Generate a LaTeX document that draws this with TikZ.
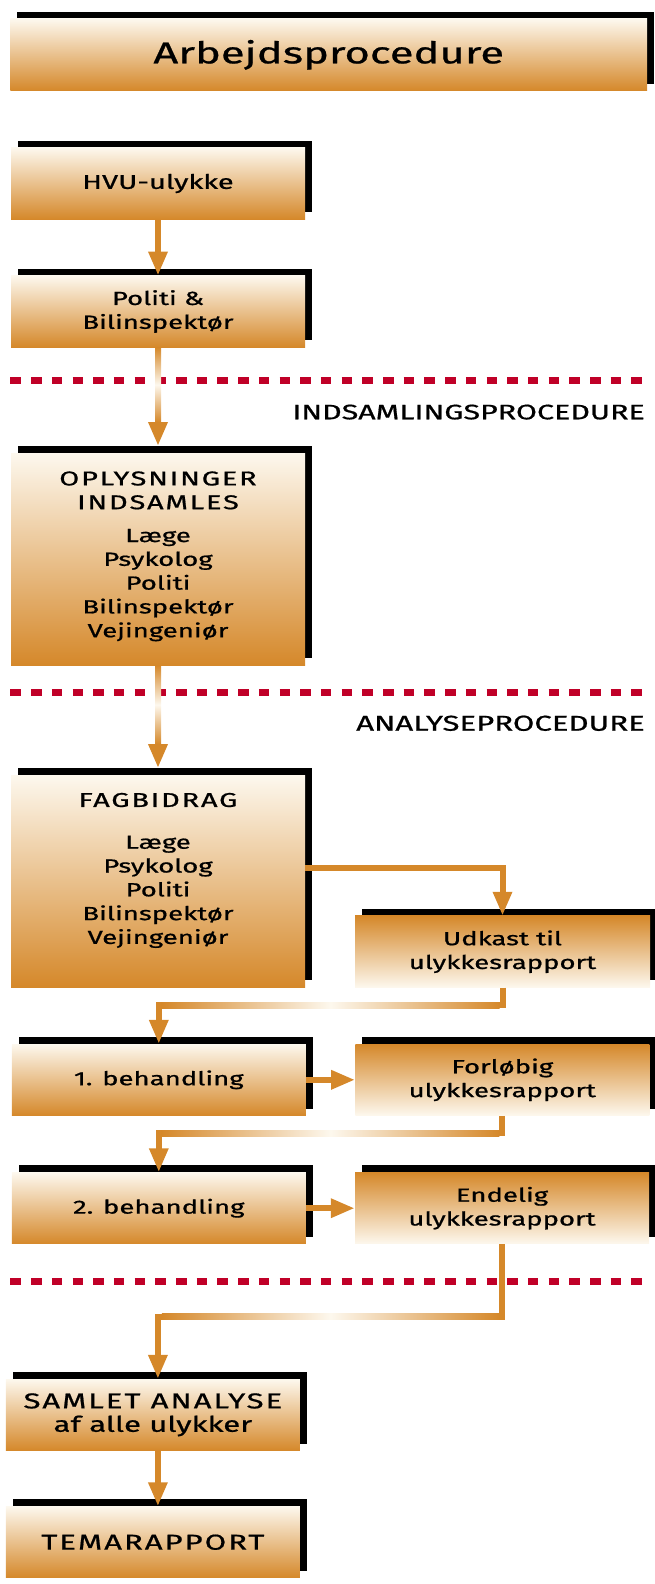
\documentclass[tikz,border=0pt]{standalone}
\usepackage{fontspec}
\setmainfont{Fira Sans}[FakeStretch=1.45,FakeBold=0.8]
\newfontfamily\widecaps{Fira Sans}[FakeStretch=1.45,FakeBold=0.8,LetterSpace=9]
\usetikzlibrary{arrows.meta,shadows,calc,positioning}
\definecolor{orng}{RGB}{213,136,42}
\definecolor{cream}{RGB}{253,248,238}
\definecolor{sepred}{RGB}{192,0,40}
\tikzset{
  box/.style     = { rectangle, inner sep=0pt, align=center,
                     minimum width=294pt, minimum height=71.5pt,
                     top color=cream, bottom color=orng,
                     general shadow={fill=black, shadow xshift=7pt, shadow yshift=7pt},
                     font=\fontsize{19}{23.8}\selectfont },
  revbox/.style  = { box, top color=orng, bottom color=cream },
  tallbox/.style = { box, minimum height=212pt },
  flow/.style    = { draw=orng, line width=6pt, -{Triangle[width=18pt,length=24pt]} },
  fade/.style    = { top color=orng, bottom color=orng, middle color=cream },
  hfade/.style   = { left color=orng, right color=orng, middle color=cream },
  sep/.style     = { sepred, line width=7pt, dash pattern=on 10.5pt off 10.2pt },
  phase/.style   = { anchor=base east, inner sep=0pt, font=\fontsize{21}{24}\selectfont },
}

\begin{document}
\begin{tikzpicture}[x=1pt,y=-1pt]
  \useasboundingbox (0,0) rectangle (655,1584);

  % Title
  \node[box, minimum width=636.6pt, minimum height=71.7pt,
        font=\fontsize{30}{36}\selectfont] (title) at (328.7,54.85) {Arbejdsprocedure};

  % Left column
  \node[box, font=\fontsize{20}{24}\selectfont] (hvu) at (158,183.5) {HVU-ulykke};
  \node[box] (politi) at (158,311.5) {Politi \&\\Bilinspektør};
  \node[tallbox] (oplys) at (158,559.2)
    {{\widecaps\fontsize{20}{24}\selectfont OPLYSNINGER}\\{\widecaps\fontsize{20}{24}\selectfont INDSAMLES}\\[9pt]Læge\\Psykolog\\Politi\\Bilinspektør\\Vejingeniør\\[-14pt]\mbox{}};
  \node[tallbox] (fag) at (158,881.3)
    {{\widecaps\fontsize{20}{24}\selectfont FAGBIDRAG}\\[18pt]Læge\\Psykolog\\Politi\\Bilinspektør\\Vejingeniør\\[2pt]\mbox{}};
  \node[box] (beh1)   at (158.8,1079.8) {1. behandling};
  \node[box] (beh2)   at (158.8,1208.2) {2. behandling};
  \node[box, font=\fontsize{21.5}{23.4}\selectfont] (samlet) at (152.9,1414.8)
    {{\widecaps SAMLET ANALYSE}\\af alle ulykker};
  \node[box, font=\fontsize{21.5}{24}\selectfont] (tema) at (152.9,1542.2) {\widecaps TEMARAPPORT};

  % Right column
  \node[revbox, minimum width=295pt] (udkast) at (502.5,951.7) {Udkast til\\ulykkesrapport};
  \node[revbox] (forl)  at (502.3,1079.8) {Forløbig\\ulykkesrapport};
  \node[revbox] (endel) at (502,1208.2)   {Endelig\\ulykkesrapport};

  % Procedure lines
  \draw[sep] (10.4,380.7)  -- (645,380.7);
  \draw[sep] (10.4,692.7)  -- (645,692.7);
  \draw[sep] (10.4,1281.7) -- (645,1281.7);
  \node[phase] (indsaml) at (645,419.3) {INDSAMLINGSPROCEDURE};
  \node[phase, font=\fontsize{21.5}{24}\selectfont] (analyse) at (645,730.7) {ANALYSEPROCEDURE};

  % Connectors
  \draw[flow] (hvu) -- (politi);
  \draw[flow, shorten >=7pt] (politi) -- (oplys);
  \shade[fade] ($(politi.south)+(-3,0)$) rectangle ($(oplys.north)+(3,-31)$);
  \draw[flow, shorten >=7pt] (oplys) -- (fag);
  \shade[fade] ($(oplys.south)+(-3,0)$) rectangle ($(fag.north)+(3,-31)$);
  \draw[flow] ($(fag.east)+(0,-13)$) -| (udkast.north);
  \draw[flow] (udkast.south) -- ++(0,17.7) coordinate (u1) -| (beh1.north);
  \shade[hfade] ($(u1 -| beh1.north)+(3,-3)$) rectangle ($(u1)+(-3,3)$);
  \draw[flow] (beh1) -- (forl);
  \draw[flow] (forl.south) -- ++(0,17.6) coordinate (u2) -| (beh2.north);
  \shade[hfade] ($(u2 -| beh2.north)+(3,-3)$) rectangle ($(u2)+(-3,3)$);
  \draw[flow] (beh2) -- (endel);
  \draw[flow] (endel.south) -- ++(0,72.7) coordinate (u3) -| ($(samlet.north)+(5,0)$);
  \shade[hfade] ($(u3 -| beh2.north)+(3,-3)$) rectangle ($(u3)+(-3,3)$);
  \draw[flow] ($(samlet.south)+(5,0)$) -- ($(tema.north)+(5,0)$);
\end{tikzpicture}
\end{document}
